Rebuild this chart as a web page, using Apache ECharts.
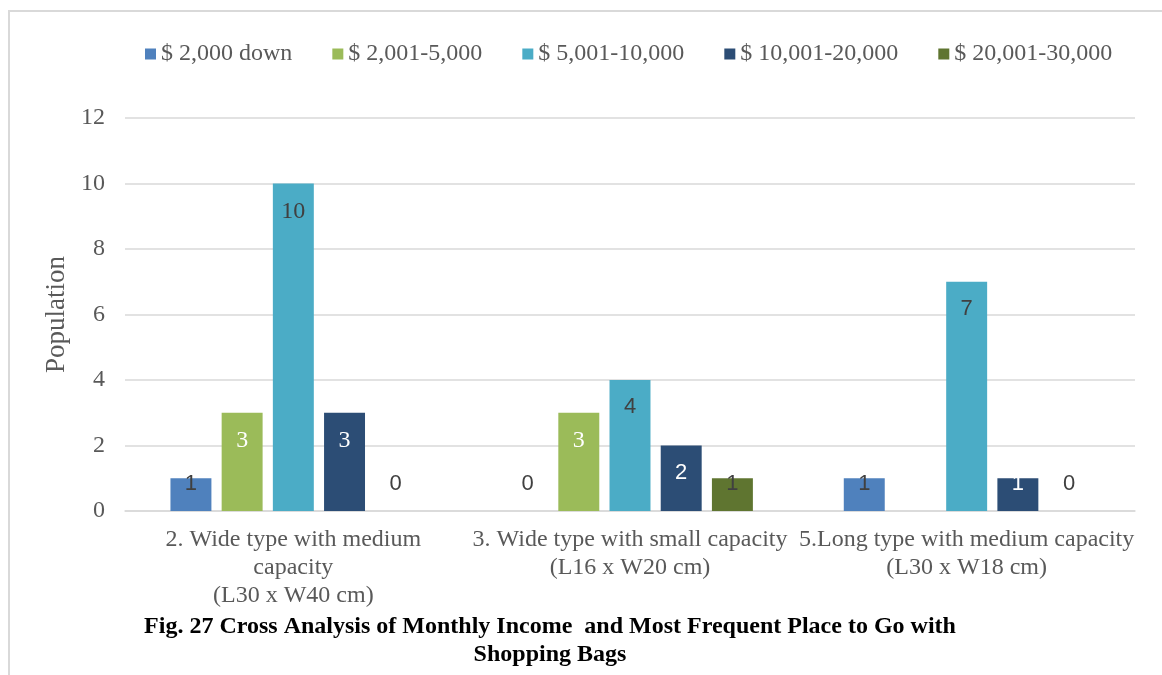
<!DOCTYPE html>
<html>
<head>
<meta charset="utf-8">
<script src="https://cdn.jsdelivr.net/npm/echarts@6/dist/echarts.min.js"></script>
<style>
  html, body { margin: 0; padding: 0; background: #ffffff; }
  #chart { width: 1162px; height: 675px; }
</style>
</head>
<body>
<div id="chart"></div>
<script>
// Bag types (x-axis categories)
const categories = [
  '2. Wide type with medium\ncapacity\n(L30 x W40 cm)',
  '3. Wide type with small capacity\n(L16 x W20 cm)',
  '5.Long type with medium capacity\n(L30 x W18 cm)'
];

// Monthly income groups (legend)
const incomeGroups = ['$ 2,000 down', '$ 2,001-5,000', '$ 5,001-10,000', '$ 10,001-20,000', '$ 20,001-30,000'];

// Population per bag type, one array per income group (null = no entry)
const income2000Down = [1, 0, 1];
const income2001to5000 = [3, 3, null];
const income5001to10000 = [10, 4, 7];
const income10001to20000 = [3, 2, 1];
const income20001to30000 = [0, 1, 0];

// Y-axis ticks
const yTicks = [0, 2, 4, 6, 8, 10, 12];

const seriesValues = [income2000Down, income2001to5000, income5001to10000, income10001to20000, income20001to30000];
const barColors = ['#4F81BD', '#9BBB59', '#4BACC6', '#2C4D75', '#5F7530'];
const labelColors = ['#404040', '#ffffff', '#404040', '#ffffff', '#404040'];
// Labels typeset in the serif face (series index -> category indices); others use sans
const serifLabels = { 1: [0, 1], 2: [0], 3: [0] };

const SERIF = '"Liberation Serif", "Times New Roman", serif';
const SANS = '"Liberation Sans", Arial, sans-serif';

const series = seriesValues.map((vals, si) => ({
  name: incomeGroups[si],
  type: 'bar',
  barGap: '25%',
  barCategoryGap: '27%',
  itemStyle: { color: barColors[si] },
  data: vals.map((v, ci) => {
    if (v === null) return '-';
    const serif = (serifLabels[si] || []).indexOf(ci) >= 0;
    return {
      value: v,
      label: {
        show: true,
        position: v <= 1 ? 'insideBottom' : 'insideTop',
        distance: 16,
        color: v === 0 ? '#404040' : labelColors[si],
        fontFamily: serif ? SERIF : SANS,
        fontSize: serif ? 24 : 22
      }
    };
  })
}));

const chart = echarts.init(document.getElementById('chart'));
chart.setOption({
  animation: false,
  backgroundColor: '#ffffff',
  textStyle: { fontFamily: SERIF },
  legend: {
    data: incomeGroups,
    top: 37,
    left: 140,
    icon: 'rect',
    itemWidth: 11,
    itemHeight: 11,
    itemGap: 40,
    textStyle: { fontFamily: SERIF, fontSize: 24, color: '#595959' }
  },
  grid: { left: 125, right: 27, top: 118, bottom: 164, containLabel: false },
  xAxis: {
    type: 'category',
    data: categories,
    axisLine: { lineStyle: { color: '#d9d9d9', width: 1.5 } },
    axisTick: { show: false },
    axisLabel: {
      interval: 0,
      margin: 15,
      fontFamily: SERIF,
      fontSize: 24,
      lineHeight: 28,
      color: '#595959',
      align: 'center'
    }
  },
  yAxis: {
    type: 'value',
    min: yTicks[0],
    max: yTicks[yTicks.length - 1],
    interval: yTicks[1] - yTicks[0],
    name: 'Population',
    nameLocation: 'middle',
    nameGap: 48,
    nameTextStyle: { fontFamily: SERIF, fontSize: 27, color: '#595959' },
    axisLine: { show: false },
    axisTick: { show: false },
    splitLine: { lineStyle: { color: '#d9d9d9', width: 1.5 } },
    axisLabel: { margin: 20, fontFamily: SERIF, fontSize: 24, color: '#595959' }
  },
  series: series,
  graphic: [
    {
      type: 'rect',
      shape: { x: 9, y: 11, width: 1200, height: 700 },
      style: { fill: 'none', stroke: '#d9d9d9', lineWidth: 2 },
      silent: true,
      z: -1
    },
    {
      type: 'text',
      x: 550,
      y: 613,
      style: {
        text: 'Fig. 27 Cross Analysis of Monthly Income  and Most Frequent Place to Go with\nShopping Bags',
        align: 'center',
        verticalAlign: 'top',
        fontFamily: SERIF,
        fontWeight: 'bold',
        fontSize: 24,
        lineHeight: 28,
        fill: '#000000'
      }
    }
  ]
});
</script>
</body>
</html>
